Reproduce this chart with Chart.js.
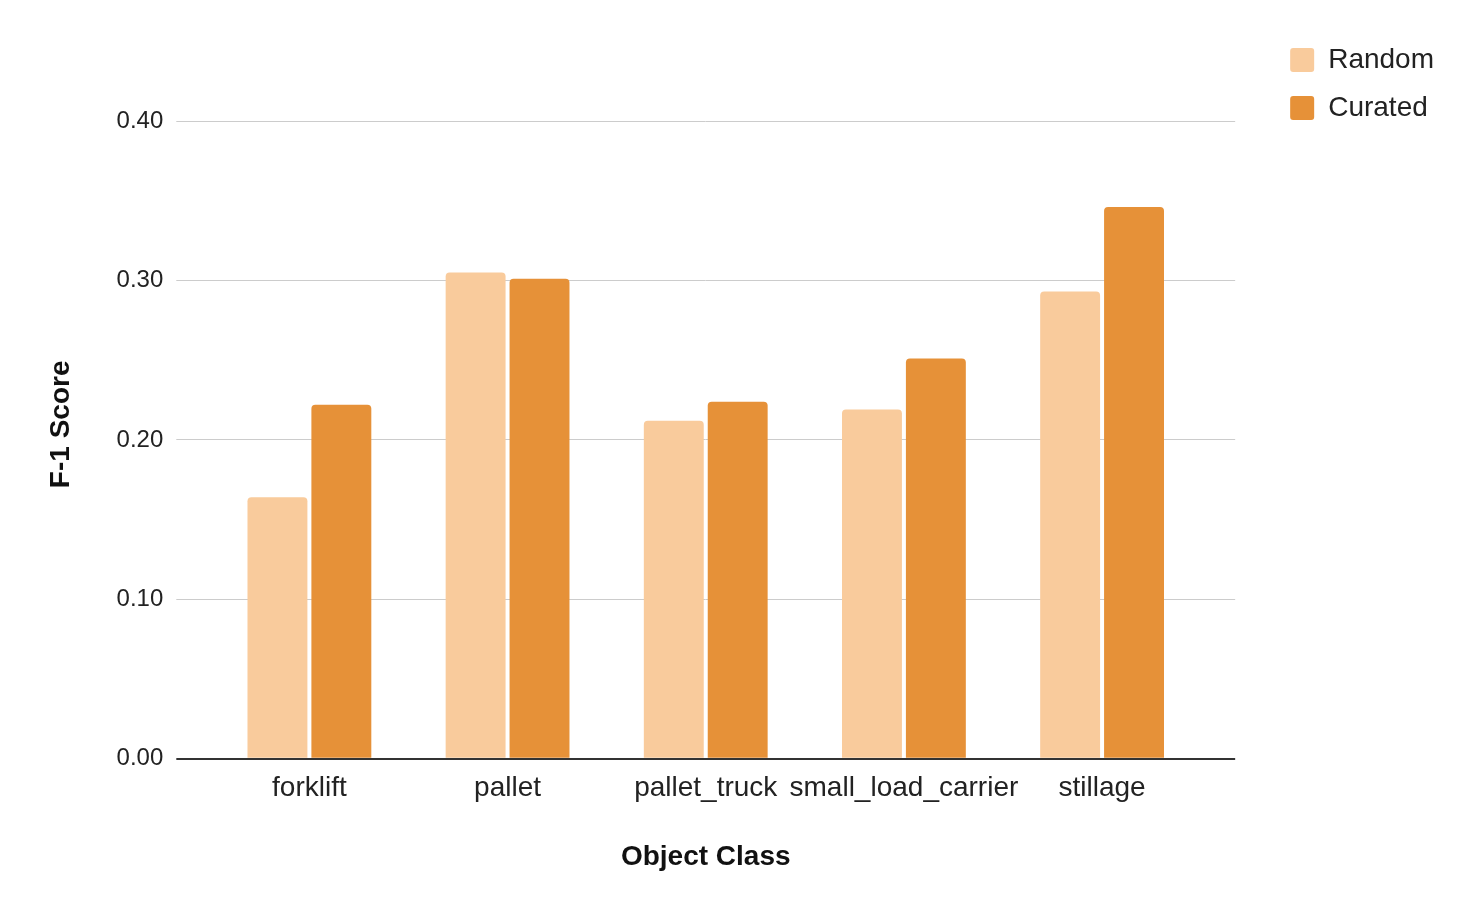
<!DOCTYPE html>
<html>
<head>
<meta charset="utf-8">
<title>F-1 Score by Object Class</title>
<script src="https://cdn.jsdelivr.net/npm/chart.js@4/dist/chart.umd.min.js"></script>
<style>
  body { margin: 0; background: #fff; }
  #wrap { width: 1481px; height: 916px; }
</style>
</head>
<body>
<div id="wrap"><canvas id="chart" width="1481" height="916"></canvas></div>
<script>
const categories = ['forklift', 'pallet', 'pallet_truck', 'small_load_carrier', 'stillage'];
const randomScores = [0.164, 0.305, 0.212, 0.219, 0.293];
const curatedScores = [0.222, 0.301, 0.224, 0.251, 0.346];
const yTicks = [0, 0.1, 0.2, 0.3, 0.4];

const font = 'Liberation Sans, Arial, Helvetica, sans-serif';

// zero line is dark, the rest light grey
const gridColor = ctx => (ctx.tick && ctx.tick.value === 0) ? '#333333' : '#cccccc';
const gridWidth = ctx => (ctx.tick && ctx.tick.value === 0) ? 2 : 1;

const ctx = document.getElementById('chart').getContext('2d');
const myChart = new Chart(ctx, {
  type: 'bar',
  data: {
    labels: categories,
    datasets: [
      {
        label: 'Random',
        data: randomScores,
        backgroundColor: '#f9cb9c',
        borderRadius: 4,
        categoryPercentage: 0.645,
        barPercentage: 0.9375
      },
      {
        label: 'Curated',
        data: curatedScores,
        backgroundColor: '#e69138',
        borderRadius: 4,
        categoryPercentage: 0.645,
        barPercentage: 0.9375
      }
    ]
  },
  options: {
    responsive: false,
    animation: false,
    layout: {
      padding: { top: 26, left: 20, right: 37, bottom: 42 }
    },
    plugins: {
      tooltip: { enabled: false },
      // empty title only used to push the plot area down below the legend
      title: {
        display: true,
        text: '',
        font: { size: 10 },
        padding: { top: 0, bottom: 83 }
      },
      legend: {
        position: 'right',
        align: 'start',
        labels: {
          boxWidth: 24,
          boxHeight: 24,
          useBorderRadius: true,
          borderRadius: 3,
          padding: 20,
          color: '#222222',
          font: { family: font, size: 28 }
        }
      }
    },
    scales: {
      x: {
        grid: { display: false },
        border: { display: false },
        ticks: {
          color: '#222222',
          padding: 5,
          maxRotation: 0,
          autoSkip: false,
          font: { family: font, size: 28 }
        },
        title: {
          display: true,
          text: 'Object Class',
          color: '#111111',
          padding: { top: 30, bottom: 0 },
          font: { family: font, size: 28, weight: 'bold' }
        }
      },
      y: {
        min: 0,
        max: 0.4,
        afterBuildTicks: scale => { scale.ticks = yTicks.map(v => ({ value: v })); },
        grid: {
          color: gridColor,
          lineWidth: gridWidth,
          tickLength: 34,
          tickColor: gridColor,
          tickWidth: gridWidth
        },
        border: { display: false },
        ticks: {
          color: '#222222',
          padding: 13,
          font: { family: font, size: 24 },
          callback: v => Number(v).toFixed(2)
        },
        title: {
          display: true,
          // leading spaces nudge the title a little above the plot centre
          text: '    F-1 Score',
          color: '#111111',
          padding: { top: 24, bottom: 26 },
          font: { family: font, size: 28, weight: 'bold' }
        }
      },
      // right side axis only to run the grid lines past the last bar
      y2: {
        position: 'right',
        min: 0,
        max: 0.4,
        afterBuildTicks: scale => { scale.ticks = yTicks.map(v => ({ value: v })); },
        afterFit: scale => { scale.width = 69; },
        grid: {
          drawOnChartArea: false,
          color: gridColor,
          lineWidth: gridWidth,
          tickLength: 34,
          tickColor: gridColor,
          tickWidth: gridWidth
        },
        border: { display: false },
        ticks: { display: false }
      }
    }
  }
});
</script>
</body>
</html>
